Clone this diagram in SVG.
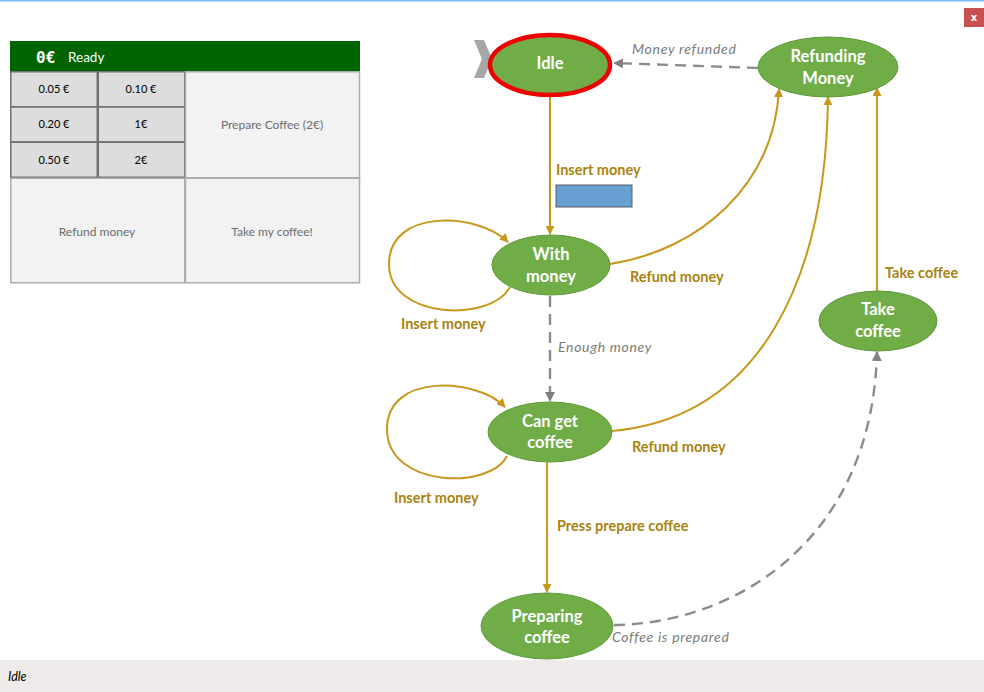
<svg xmlns="http://www.w3.org/2000/svg" width="984" height="692" viewBox="0 0 984 692">
  <style>
    .cell-coin { fill: #dddddd; stroke: #707070; stroke-width: 1.5; }
    .cell-cmd { fill: #f2f2f2; stroke: #adadad; stroke-width: 1.5; }
    .coin-txt { font-family: Lato, "Noto Sans", sans-serif; font-size: 11px; fill: #000; text-anchor: middle; }
    .cmd-txt { font-family: Lato, "Noto Sans", sans-serif; font-size: 12px; fill: #6d6d6d; text-anchor: middle; }
    .state { fill: #70ad47; stroke: #5e9a3a; stroke-width: 1; }
    .state-txt { font-family: Lato, "Open Sans", sans-serif; font-size: 16.5px; font-weight: bold; fill: #ffffff; text-anchor: middle; }
    .edge { fill: none; stroke: #c8981c; stroke-width: 2; }
    .edge-dash { fill: none; stroke: #8c8c8c; stroke-width: 2.4; stroke-dasharray: 11 7; }
    .lbl { font-family: Lato, "Open Sans", sans-serif; font-size: 14.5px; font-weight: bold; fill: #a8830f; }
    .lbl-i { font-family: Lato, "Open Sans", sans-serif; font-size: 14px; font-style: italic; fill: #7a7a7a; letter-spacing: 0.7px; }
  </style>
  <defs>
    <marker id="arrGold" viewBox="0 0 10 10" refX="9" refY="5" markerWidth="9" markerHeight="9" markerUnits="userSpaceOnUse" orient="auto">
      <path d="M0,0 L10,5 L0,10 Z" fill="#c8981c"/>
    </marker>
    <marker id="arrGrey" viewBox="0 0 10 10" refX="9" refY="5" markerWidth="10" markerHeight="10" markerUnits="userSpaceOnUse" orient="auto">
      <path d="M0,0 L10,5 L0,10 Z" fill="#808080"/>
    </marker>
  </defs>

  <!-- window frame -->
  <rect x="0" y="0" width="984" height="692" fill="#ffffff"/>
  <rect x="0" y="0" width="984" height="1.5" fill="#7ab8f0"/>
  <g id="close-button">
    <rect x="964" y="8" width="20" height="19" fill="#c75050"/>
    <text x="974" y="21" font-family="'DejaVu Sans', sans-serif" font-size="10" font-weight="bold" fill="#ffffff" text-anchor="middle">x</text>
  </g>

  <!-- vending panel -->
  <g id="panel">
    <rect x="10" y="41" width="350" height="30" fill="#006400"/>
    <text x="36" y="63" font-family="'DejaVu Sans Mono', monospace" font-size="16" font-weight="bold" fill="#ffffff">0€</text>
    <text x="68" y="62" font-family="Lato, 'Noto Sans', sans-serif" font-size="13.5" fill="#ffffff">Ready</text>

    <g id="coin-005"><rect class="cell-coin" x="10.75" y="71.75" width="86.5" height="35"/><text class="coin-txt" x="54" y="93">0.05 €</text></g>
    <g id="coin-010"><rect class="cell-coin" x="98.25" y="71.75" width="86.5" height="35"/><text class="coin-txt" x="141" y="93">0.10 €</text></g>
    <g id="coin-020"><rect class="cell-coin" x="10.75" y="107" width="86.5" height="35"/><text class="coin-txt" x="54" y="128">0.20 €</text></g>
    <g id="coin-1"><rect class="cell-coin" x="98.25" y="107" width="86.5" height="35"/><text class="coin-txt" x="141" y="128">1€</text></g>
    <g id="coin-050"><rect class="cell-coin" x="10.75" y="142.25" width="86.5" height="35"/><text class="coin-txt" x="54" y="164">0.50 €</text></g>
    <g id="coin-2"><rect class="cell-coin" x="98.25" y="142.25" width="86.5" height="35"/><text class="coin-txt" x="141" y="164">2€</text></g>

    <g id="btn-prepare"><rect class="cell-cmd" x="185.5" y="71.75" width="174" height="106"/><text class="cmd-txt" x="272" y="129">Prepare Coffee (2€)</text></g>
    <g id="btn-refund"><rect class="cell-cmd" x="10.75" y="178.25" width="174" height="104.5"/><text class="cmd-txt" x="97" y="236">Refund money</text></g>
    <g id="btn-take"><rect class="cell-cmd" x="185.5" y="178.25" width="174" height="104.5"/><text class="cmd-txt" x="272" y="236">Take my coffee!</text></g>
  </g>

  <!-- status bar -->
  <g id="status-bar">
    <rect x="0" y="660" width="984" height="32" fill="#efebea"/>
    <text x="8" y="681" font-family="Lato, 'Noto Sans', sans-serif" font-size="12.5" font-style="italic" fill="#000000">Idle</text>
  </g>

  <!-- transitions -->
  <g id="connectors">
    <path class="edge" d="M550,97 L550,234" marker-end="url(#arrGold)"/>
    <path class="edge-dash" d="M758,68 L614,63" marker-end="url(#arrGrey)"/>
    <path class="edge" d="M610,264 C700,250 774,185 779,89" marker-end="url(#arrGold)"/>
    <path class="edge" d="M612,431 C760,418 826,280 828,97" marker-end="url(#arrGold)"/>
    <path class="edge" d="M877,292 L877,88" marker-end="url(#arrGold)"/>
    <path class="edge-dash" d="M550,296 L550,401" marker-end="url(#arrGrey)"/>
    <path class="edge" d="M547,462 L547,592" marker-end="url(#arrGold)"/>
    <path class="edge-dash" d="M614,625 C730,624 872,545 877,352" marker-end="url(#arrGrey)"/>
    <path class="edge" d="M510,287 C492,322 390,320 389,265 C388,208 478,212 508,242" marker-end="url(#arrGold)"/>
    <path class="edge" d="M507,456 C490,490 388,488 387,430 C386,372 478,378 505,407" marker-end="url(#arrGold)"/>
    <rect x="556" y="185" width="76" height="22" fill="#6a9fd4" stroke="#55606c" stroke-width="1"/>
  </g>

  <!-- transition labels -->
  <g id="labels">
    <text class="lbl" x="556" y="175">Insert money</text>
    <text class="lbl-i" x="632" y="54">Money refunded</text>
    <text class="lbl" x="630" y="282">Refund money</text>
    <text class="lbl" x="401" y="329">Insert money</text>
    <text class="lbl-i" x="558" y="352">Enough money</text>
    <text class="lbl" x="632" y="452">Refund money</text>
    <text class="lbl" x="394" y="503">Insert money</text>
    <text class="lbl" x="557" y="531">Press prepare coffee</text>
    <text class="lbl" x="885" y="278">Take coffee</text>
    <text class="lbl-i" x="612" y="642">Coffee is prepared</text>
  </g>

  <!-- states -->
  <g id="state-idle">
    <polygon points="474,40 484,40 492,59 484,78 474,78 482,59" fill="#a6a6a6"/>
    <ellipse cx="550" cy="65" rx="60" ry="30" fill="#70ad47" stroke="#ee0000" stroke-width="4.5"/>
    <text class="state-txt" x="550" y="69">Idle</text>
  </g>
  <g id="state-refunding">
    <ellipse class="state" cx="828" cy="67" rx="70" ry="30"/>
    <text class="state-txt" x="828" y="62">Refunding</text>
    <text class="state-txt" x="828" y="84">Money</text>
  </g>
  <g id="state-with-money">
    <ellipse class="state" cx="551" cy="265" rx="59" ry="30"/>
    <text class="state-txt" x="551" y="260">With</text>
    <text class="state-txt" x="551" y="282">money</text>
  </g>
  <g id="state-can-get-coffee">
    <ellipse class="state" cx="550" cy="432" rx="62" ry="30"/>
    <text class="state-txt" x="550" y="427">Can get</text>
    <text class="state-txt" x="550" y="448">coffee</text>
  </g>
  <g id="state-take-coffee">
    <ellipse class="state" cx="878" cy="321" rx="59" ry="30"/>
    <text class="state-txt" x="878" y="315">Take</text>
    <text class="state-txt" x="878" y="337">coffee</text>
  </g>
  <g id="state-preparing">
    <ellipse class="state" cx="547" cy="626" rx="66" ry="33"/>
    <text class="state-txt" x="547" y="622">Preparing</text>
    <text class="state-txt" x="547" y="643">coffee</text>
  </g>
</svg>
